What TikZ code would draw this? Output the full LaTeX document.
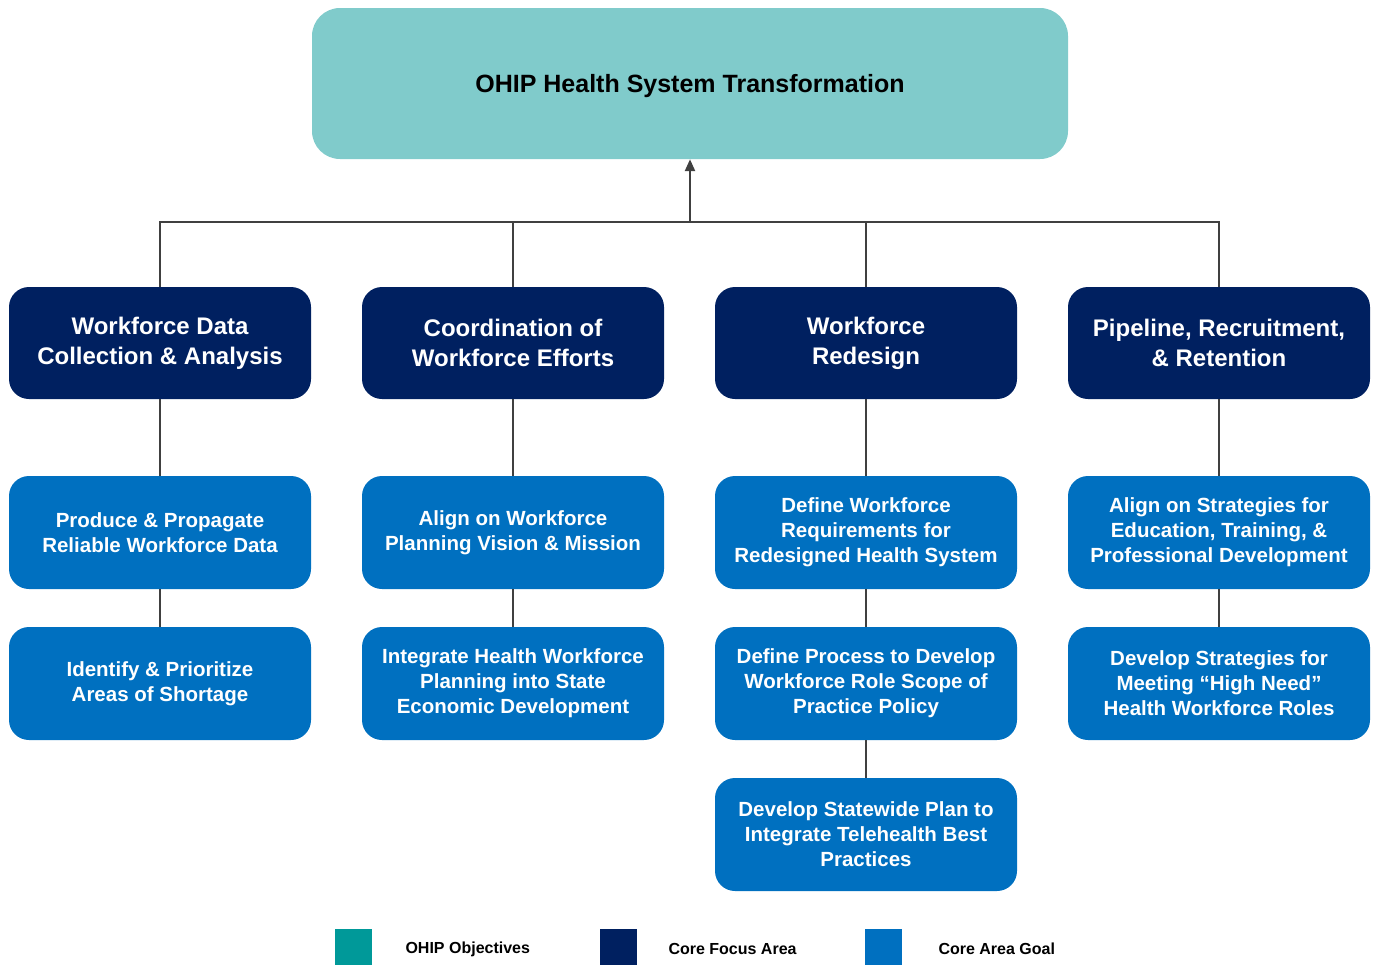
\documentclass[tikz,border=0pt]{standalone}
\usepackage{fontspec}
\setmainfont{Liberation Sans}
\usetikzlibrary{arrows.meta}
\definecolor{objteal}{RGB}{128,203,203}
\definecolor{legteal}{RGB}{0,153,153}
\definecolor{areanavy}{RGB}{0,32,96}
\definecolor{goalblue}{RGB}{0,112,192}
\definecolor{linkgray}{RGB}{64,64,64}
\tikzset{
  objbox/.style={fill=objteal, rounded corners=28pt, minimum width=756pt, minimum height=151pt,
    font=\fontsize{25}{30}\selectfont\bfseries, text=black, text depth=0pt},
  areabox/.style={fill=areanavy, rounded corners=20pt, minimum width=302pt, minimum height=112pt,
    align=center, font=\fontsize{24}{30}\selectfont\bfseries, text=white},
  goalbox/.style={fill=goalblue, rounded corners=20pt, minimum width=302pt, minimum height=113pt,
    align=center, font=\fontsize{20.5}{25}\selectfont\bfseries, text=white},
  link/.style={draw=linkgray, line width=2.4pt},
  legsq/.style={minimum width=37pt, minimum height=37pt, inner sep=0pt, anchor=north west},
  legtext/.style={anchor=west, font=\fontsize{16}{19}\selectfont\bfseries}
}
\begin{document}
\begin{tikzpicture}[x=1pt, y=-1pt]
\useasboundingbox (0,0) rectangle (1375,964);

% objective
\node[objbox] (top) at (690,83.5) {OHIP Health System Transformation};

% core focus areas
\node[areabox] (area1) at (160,343) {Workforce Data\\Collection \& Analysis};
\node[areabox] (area2) at (513,343) {Coordination of\\Workforce Efforts};
\node[areabox] (area3) at (866,343) {Workforce\\Redesign};
\node[areabox] (area4) at (1219,343) {Pipeline, Recruitment,\\\& Retention};

% core area goals
\node[goalbox] (goal11) at (160,532.5) {Produce \& Propagate\\Reliable Workforce Data};
\node[goalbox] (goal12) at (160,683.5) {Identify \& Prioritize\\Areas of Shortage};
\node[goalbox] (goal21) at (513,532.5) {Align on Workforce\\Planning Vision \& Mission};
\node[goalbox] (goal22) at (513,683.5) {Integrate Health Workforce\\Planning into State\\Economic Development};
\node[goalbox] (goal31) at (866,532.5) {Define Workforce\\Requirements for\\Redesigned Health System};
\node[goalbox] (goal32) at (866,683.5) {Define Process to Develop\\Workforce Role Scope of\\Practice Policy};
\node[goalbox] (goal33) at (866,834.5) {Develop Statewide Plan to\\Integrate Telehealth Best\\Practices};
\node[goalbox] (goal41) at (1219,532.5) {Align on Strategies for\\Education, Training, \&\\Professional Development};
\node[goalbox] (goal42) at (1219,683.5) {Develop Strategies for\\Meeting “High Need”\\Health Workforce Roles};

% connectors
\coordinate (bus) at (690,222);
\draw[link, -{Triangle[length=12pt, width=10pt]}] (bus) -- (top);
\draw[link] (area1.north) -- (area1.north |- bus) -- (area4.north |- bus) -- (area4.north);
\foreach \a in {2,3}
  \draw[link] (area\a.north) -- (area\a.north |- bus);
\foreach \a in {1,2,3,4}
  \draw[link] (area\a) -- (goal\a1);
\foreach \a/\b/\c in {1/1/2, 2/1/2, 3/1/2, 3/2/3, 4/1/2}
  \draw[link] (goal\a\b) -- (goal\a\c);

% legend
\node[legsq, fill=legteal] (legobj) at (335,929) {};
\node[legtext] (legobjtext) at (402,949) {OHIP Objectives};
\node[legsq, fill=areanavy] (legarea) at (600,929) {};
\node[legtext] (legareatext) at (665,949) {Core Focus Area};
\node[legsq, fill=goalblue] (leggoal) at (865,929) {};
\node[legtext] (leggoaltext) at (935,949) {Core Area Goal};

\end{tikzpicture}
\end{document}
